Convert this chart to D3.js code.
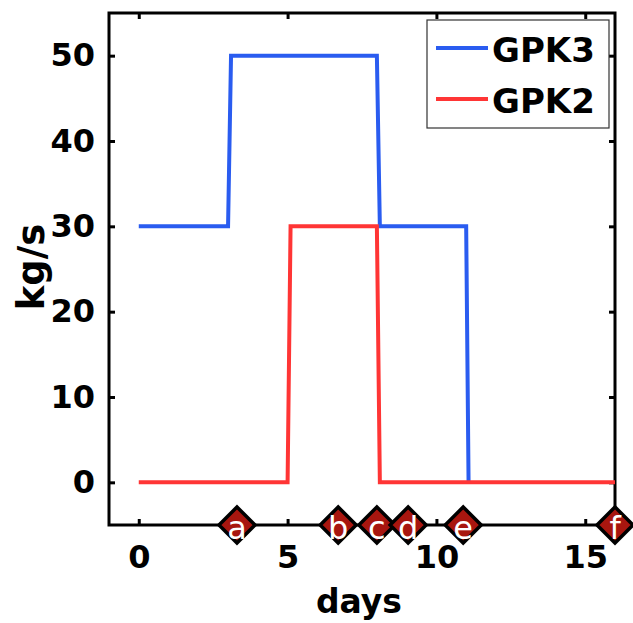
<!DOCTYPE html>
<html><head><meta charset="utf-8">
<script src="https://cdn.jsdelivr.net/npm/d3@7"></script>
<style>body{margin:0;background:#fff}svg{display:block}</style>
</head><body>
<svg id="chart" width="633" height="623"></svg>
<script>
// ---- data ----
const gpk3Days = [0, 3.0, 3.1, 8.0, 8.1, 11.0, 11.08];
const gpk3Flow = [30, 30, 50, 50, 30, 30, 0];
const gpk2Days = [0, 5.0, 5.1, 8.0, 8.1, 16];
const gpk2Flow = [0, 0, 30, 30, 0, 0];
const eventDays = [3.3, 6.7, 8.0, 9.05, 10.9, 16];
const eventLabels = ["a", "b", "c", "d", "e", "f"];
const xTicks = [0, 5, 10, 15];
const yTicks = [0, 10, 20, 30, 40, 50];
const seriesNames = ["GPK3", "GPK2"];
const seriesColors = ["#2a5cf0", "#ff3535"];

// ---- layout ----
const L = 109, R = 615, T = 13, B = 525;
const svg = d3.select("#chart");
const x = d3.scaleLinear().domain([-1, 16]).range([L, R]);
const y = d3.scaleLinear().domain([-5, 55]).range([B, T]);
const font = "'DejaVu Sans', sans-serif";

function styleAxis(g, labels) {
  g.select(".domain").remove();
  g.selectAll(".tick line").attr("stroke", "#000").attr("stroke-width", 3);
  g.selectAll(".tick text").attr("fill", "#000").attr("font-family", font)
    .attr("font-weight", "bold").attr("font-size", 32);
  if (!labels) g.selectAll(".tick text").remove();
}
svg.append("g").attr("transform", `translate(0,${B})`)
  .call(d3.axisBottom(x).tickValues(xTicks).tickSize(-6).tickPadding(20).tickFormat(d3.format("d")))
  .call(g => styleAxis(g, true));
svg.append("g").attr("transform", `translate(0,${T})`)
  .call(d3.axisTop(x).tickValues(xTicks).tickSize(-6))
  .call(g => styleAxis(g, false));
svg.append("g").attr("transform", `translate(${L},0)`)
  .call(d3.axisLeft(y).tickValues(yTicks).tickSize(-6).tickPadding(14).tickFormat(d3.format("d")))
  .call(g => styleAxis(g, true));
svg.append("g").attr("transform", `translate(${R},0)`)
  .call(d3.axisRight(y).tickValues(yTicks).tickSize(-6))
  .call(g => styleAxis(g, false));

svg.append("rect").attr("x", L).attr("y", T).attr("width", R - L).attr("height", B - T)
  .attr("fill", "none").attr("stroke", "#000").attr("stroke-width", 3);

// ---- lines ----
const line = d3.line().x(d => x(d[0])).y(d => y(d[1]));
const series = [
  d3.zip(gpk3Days, gpk3Flow),
  d3.zip(gpk2Days, gpk2Flow)
];
series.forEach((s, i) => {
  svg.append("path").datum(s).attr("d", line).attr("fill", "none")
    .attr("stroke", seriesColors[i]).attr("stroke-width", 4).attr("stroke-linejoin", "miter");
});

// ---- event markers ----
const ev = svg.append("g");
eventDays.forEach((d, i) => {
  const g = ev.append("g").attr("transform", `translate(${x(d)},${y(-5)})`);
  g.append("path").attr("d", "M0,-18L18,0L0,18L-18,0Z")
    .attr("fill", "#a8160f").attr("stroke", "#000").attr("stroke-width", 3.5);
  g.append("text").attr("y", 14).attr("text-anchor", "middle")
    .attr("font-family", font).attr("font-size", 32).attr("fill", "#fff")
    .text(eventLabels[i]);
});

// ---- axis titles ----
svg.append("text").attr("x", (L + R) / 2 - 3).attr("y", 613).attr("text-anchor", "middle")
  .attr("font-family", font).attr("font-weight", "bold").attr("font-size", 33).text("days");
svg.append("text").attr("transform", `translate(44,${(T + B) / 2 - 2}) rotate(-90)`)
  .attr("text-anchor", "middle")
  .attr("font-family", font).attr("font-weight", "bold").attr("font-size", 37).text("kg/s");

// ---- legend ----
const lg = svg.append("g");
lg.append("rect").attr("x", 427).attr("y", 20).attr("width", 182).attr("height", 108)
  .attr("fill", "#fff").attr("stroke", "#333").attr("stroke-width", 1.2);
seriesNames.forEach((n, i) => {
  const yy = 48 + i * 51;
  lg.append("line").attr("x1", 436).attr("x2", 488).attr("y1", yy).attr("y2", yy)
    .attr("stroke", seriesColors[i]).attr("stroke-width", 4);
  lg.append("text").attr("x", 492).attr("y", yy + 14)
    .attr("font-family", font).attr("font-weight", "bold").attr("font-size", 34).text(n);
});
</script>
</body></html>
